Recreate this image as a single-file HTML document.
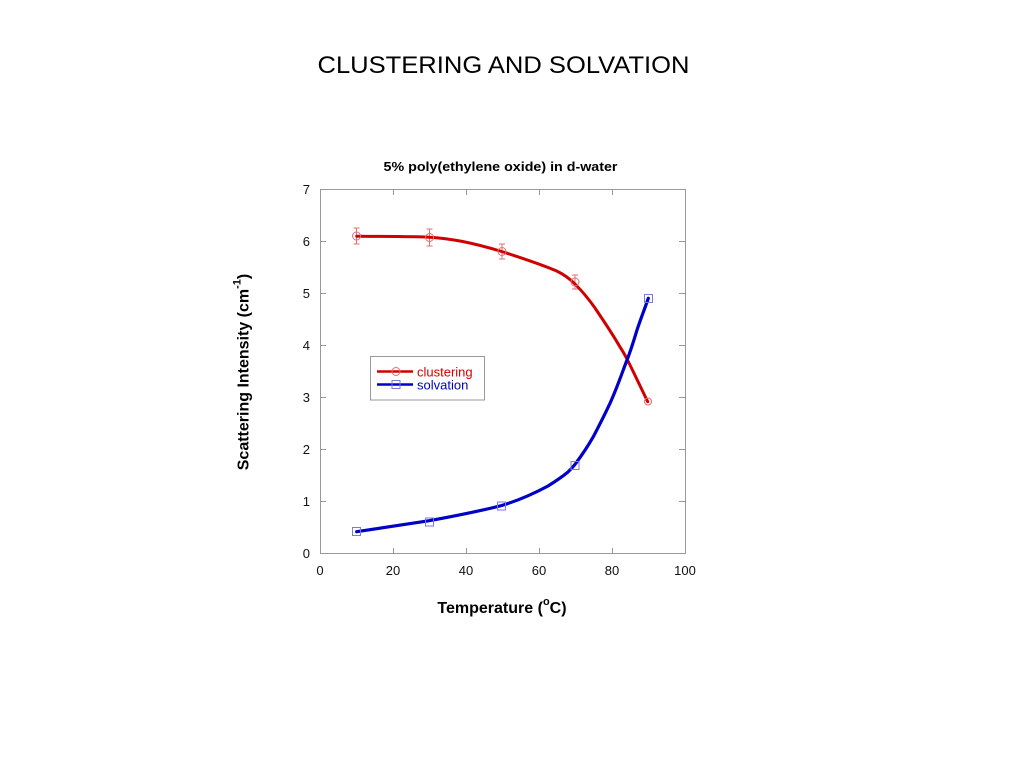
<!DOCTYPE html>
<html>
<head>
<meta charset="utf-8">
<style>
html,body{margin:0;padding:0;background:#fff;}
svg{display:block;}
text{font-family:"Liberation Sans",Arial,sans-serif;}
</style>
</head>
<body>
<svg width="1024" height="768" viewBox="0 0 1024 768" xmlns="http://www.w3.org/2000/svg">
<rect width="1024" height="768" fill="#fff"/>
<!-- Main title -->
<text x="503.5" y="73" font-size="24" text-anchor="middle" fill="#000" textLength="372" lengthAdjust="spacingAndGlyphs">CLUSTERING AND SOLVATION</text>
<!-- Chart title -->
<text x="500.5" y="171" font-size="13" font-weight="bold" text-anchor="middle" fill="#000" textLength="234" lengthAdjust="spacingAndGlyphs">5% poly(ethylene oxide) in d-water</text>

<!-- Axes frame -->
<rect x="320.5" y="189.5" width="365" height="364" fill="none" stroke="#999" stroke-width="1"/>
<!-- ticks -->
<g stroke="#999" stroke-width="1">
  <line x1="393.5" y1="553" x2="393.5" y2="548"/>
  <line x1="466.5" y1="553" x2="466.5" y2="548"/>
  <line x1="539.5" y1="553" x2="539.5" y2="548"/>
  <line x1="612.5" y1="553" x2="612.5" y2="548"/>
  <line x1="393.5" y1="190" x2="393.5" y2="195"/>
  <line x1="466.5" y1="190" x2="466.5" y2="195"/>
  <line x1="539.5" y1="190" x2="539.5" y2="195"/>
  <line x1="612.5" y1="190" x2="612.5" y2="195"/>
  <line x1="321" y1="501.5" x2="326" y2="501.5"/>
  <line x1="321" y1="449.5" x2="326" y2="449.5"/>
  <line x1="321" y1="397.5" x2="326" y2="397.5"/>
  <line x1="321" y1="345.5" x2="326" y2="345.5"/>
  <line x1="321" y1="293.5" x2="326" y2="293.5"/>
  <line x1="321" y1="241.5" x2="326" y2="241.5"/>
  <line x1="685" y1="501.5" x2="679" y2="501.5"/>
  <line x1="685" y1="449.5" x2="679" y2="449.5"/>
  <line x1="685" y1="397.5" x2="679" y2="397.5"/>
  <line x1="685" y1="345.5" x2="679" y2="345.5"/>
  <line x1="685" y1="293.5" x2="679" y2="293.5"/>
  <line x1="685" y1="241.5" x2="679" y2="241.5"/>
</g>

<!-- Y tick labels -->
<g font-size="13" fill="#111" text-anchor="end">
  <text x="310" y="558">0</text>
  <text x="310" y="506">1</text>
  <text x="310" y="454">2</text>
  <text x="310" y="402">3</text>
  <text x="310" y="350">4</text>
  <text x="310" y="298">5</text>
  <text x="310" y="246">6</text>
  <text x="310" y="194">7</text>
</g>
<!-- X tick labels -->
<g font-size="13" fill="#111" text-anchor="middle">
  <text x="320" y="575">0</text>
  <text x="393" y="575">20</text>
  <text x="466" y="575">40</text>
  <text x="539" y="575">60</text>
  <text x="612" y="575">80</text>
  <text x="685" y="575">100</text>
</g>

<!-- X axis label -->
<text x="502" y="613" font-size="16" font-weight="bold" text-anchor="middle" fill="#000">Temperature (<tspan font-size="11" dy="-8">o</tspan><tspan dy="8">C)</tspan></text>
<!-- Y axis label -->
<text transform="translate(248.5,372) rotate(-90)" font-size="16" font-weight="bold" text-anchor="middle" fill="#000">Scattering Intensity (cm<tspan font-size="11" dy="-8">-1</tspan><tspan dy="8">)</tspan></text>

<!-- Red error bars -->
<g stroke="#e07070" stroke-width="1" fill="none">
  <line x1="356.5" y1="228" x2="356.5" y2="244"/>
  <line x1="353.5" y1="228" x2="359.5" y2="228"/>
  <line x1="353.5" y1="244" x2="359.5" y2="244"/>
  <line x1="429.5" y1="229" x2="429.5" y2="246"/>
  <line x1="426.5" y1="229" x2="432.5" y2="229"/>
  <line x1="426.5" y1="246" x2="432.5" y2="246"/>
  <line x1="502" y1="244" x2="502" y2="259"/>
  <line x1="499" y1="244" x2="505" y2="244"/>
  <line x1="499" y1="259" x2="505" y2="259"/>
  <line x1="575" y1="275" x2="575" y2="289"/>
  <line x1="572" y1="275" x2="578" y2="275"/>
  <line x1="572" y1="289" x2="578" y2="289"/>
</g>

<!-- Red curve -->
<path d="M356.7,236.3 C380,236.4 410,236.3 429.5,237.2 C450,238.5 470,242 501.7,251.5 C525,259 545,266 556.7,271 C565,275 570,279 575,284 C582,291 588,298 595,308 C603,320 612,333 620,347 C624,353 626,357 628,361 C635,375 641,388 647.7,401.7" fill="none" stroke="#d00000" stroke-width="3" stroke-linecap="round" stroke-linejoin="round"/>
<!-- Blue curve -->
<path d="M356.7,531.7 C380,528 405,524.5 429.3,520.7 C455,516 480,511 501.7,505.5 C520,500 535,493 548,486 C556,481 562,477 568,472 C572,468 574,466 576,463 C582,455 588,446 593.3,436.7 C600,424 605,414 610,403.3 C617,388 622,373 627,360 C631,350 634,340 637,330 C641,318 645,308 648.3,298.3" fill="none" stroke="#0000c8" stroke-width="3.2" stroke-linecap="round" stroke-linejoin="round"/>

<!-- Red markers -->
<g fill="none" stroke="#e07070" stroke-width="1">
  <circle cx="356.5" cy="236" r="4"/>
  <circle cx="429.5" cy="237.5" r="4"/>
  <circle cx="502" cy="251.5" r="4"/>
  <circle cx="575" cy="282" r="4"/>
  <circle cx="648" cy="401.5" r="3.5"/>
</g>
<!-- Blue markers -->
<g fill="none" stroke="#7a7ae0" stroke-width="1">
  <rect x="352.5" y="527.5" width="8" height="8"/>
  <rect x="425.5" y="518" width="8" height="8"/>
  <rect x="497.5" y="502" width="8" height="8"/>
  <rect x="571" y="461.5" width="8" height="8"/>
  <rect x="644.5" y="294.5" width="8" height="8"/>
</g>

<!-- Legend -->
<rect x="370.5" y="356.5" width="114" height="43.5" fill="#fff" stroke="#999" stroke-width="1"/>
<line x1="377" y1="371.5" x2="413" y2="371.5" stroke="#d00000" stroke-width="2.5"/>
<circle cx="396" cy="371.5" r="4" fill="none" stroke="#e07070" stroke-width="1"/>
<line x1="377" y1="384.5" x2="413" y2="384.5" stroke="#0000c8" stroke-width="2.5"/>
<rect x="392" y="380.5" width="8" height="8" fill="none" stroke="#7a7ae0" stroke-width="1"/>
<text x="417" y="376.5" font-size="13" fill="#d00000">clustering</text>
<text x="417" y="389.5" font-size="13" fill="#0000c0">solvation</text>
</svg>
</body>
</html>
